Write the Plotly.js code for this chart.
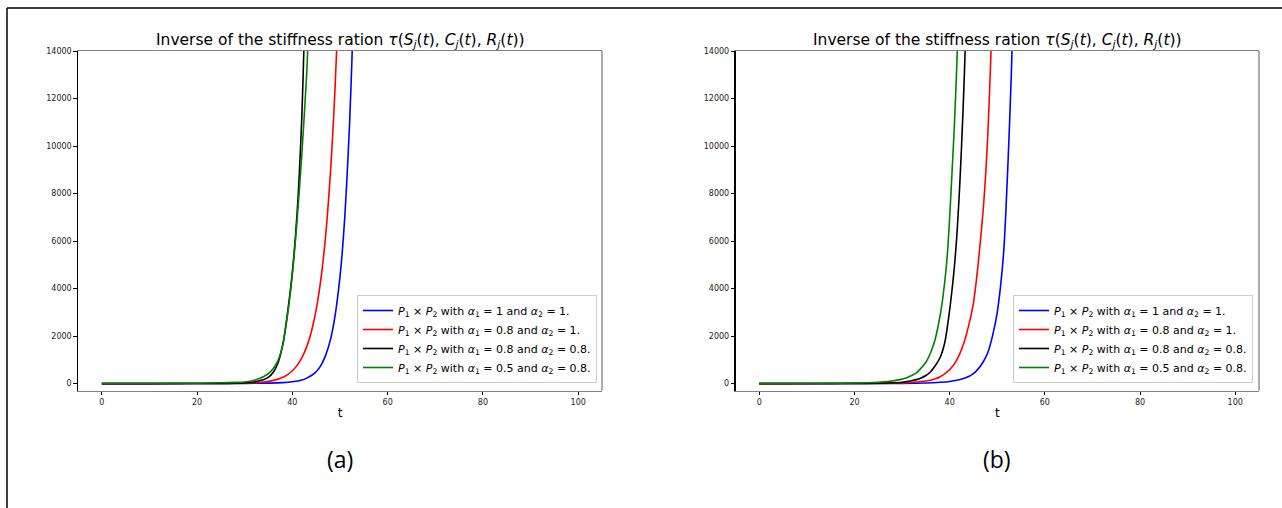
<!DOCTYPE html>
<html>
<head>
<meta charset="utf-8">
<script src="https://cdn.plot.ly/plotly-3.0.1.min.js"></script>
<style>html,body{margin:0;padding:0;background:#fff;}#chart{width:1282px;height:508px;}</style>
</head>
<body>
<div id="chart"></div>
<script>
// ---- Data (t, value) ----
// Panel (a)
const tA_blue  = [0, 10, 20, 30, 35, 38, 40, 42, 43, 44, 45, 46, 47, 48, 49, 50, 50.5, 51, 51.5, 52, 52.5, 53];
const vA_blue  = [0, 0.5, 2, 8, 22, 40, 75, 150, 230, 340, 500, 770, 1200, 1850, 2900, 4500, 5600, 7000, 8800, 10900, 13600, 16900];
const tA_red   = [0, 10, 20, 25, 30, 33, 35, 37, 38, 39, 40, 41, 42, 43, 44, 45, 46, 47, 48, 48.5, 49, 49.5];
const vA_red   = [0.5, 1, 3, 6, 16, 47, 94, 189, 268, 381, 541, 767, 1089, 1545, 2192, 3111, 4415, 6265, 8890, 10590, 12620, 15030];
const tA_black = [0, 10, 20, 25, 28, 30, 32, 34, 35, 36, 37, 38, 39, 40, 41, 42, 42.5, 43];
const vA_black = [0.3, 1, 3, 8, 16, 30, 70, 170, 270, 480, 880, 1650, 3000, 4700, 7200, 11300, 14700, 19000];
const tA_green = [0, 10, 20, 25, 28, 30, 32, 34, 35, 36, 37, 38, 39, 40, 41, 42, 43, 43.5];
const vA_green = [2, 5, 15, 35, 50, 70, 140, 300, 430, 640, 980, 1650, 2900, 4600, 6900, 9700, 13000, 15300];
// Panel (b)
const tB_blue  = [0, 10, 20, 30, 35, 38, 40, 42, 44, 45, 46, 47, 48, 49, 50, 51, 51.5, 52, 52.5, 53, 53.5];
const vB_blue  = [0, 0.5, 2, 8, 25, 55, 90, 160, 300, 420, 620, 900, 1300, 2000, 3000, 4700, 6000, 8100, 10500, 13300, 17000];
const tB_red   = [0, 10, 20, 25, 30, 33, 35, 36, 37, 38, 39, 40, 41, 42, 43, 44, 45, 46, 47, 47.5, 48, 48.5, 49];
const vB_red   = [0.5, 1, 4, 10, 30, 70, 110, 140, 200, 290, 420, 590, 830, 1200, 1720, 2450, 3400, 5050, 7200, 8600, 10400, 12900, 15700];
const tB_black = [0, 10, 20, 25, 28, 30, 32, 33, 34, 35, 36, 37, 38, 39, 40, 40.5, 41, 41.5, 42, 42.5, 43, 43.5];
const vB_black = [0.5, 1.5, 5, 15, 35, 60, 120, 168, 240, 340, 500, 760, 1100, 1750, 3100, 3950, 4930, 6200, 7900, 10000, 12500, 15500];
const tB_green = [0, 10, 20, 25, 27, 29.5, 31, 32, 33, 33.7, 35, 36, 36.5, 37, 37.5, 38.2, 39, 39.5, 40, 40.5, 41, 41.5, 42];
const vB_green = [1, 4, 25, 60, 90, 168, 250, 340, 450, 590, 900, 1300, 1570, 1900, 2350, 3100, 4350, 5400, 7000, 8900, 10900, 13400, 16500];

const seriesNames = [
  "<i>P</i><sub>1</sub> × <i>P</i><sub>2</sub> with <i>α</i><sub>1</sub> = 1 and <i>α</i><sub>2</sub> = 1.",
  "<i>P</i><sub>1</sub> × <i>P</i><sub>2</sub> with <i>α</i><sub>1</sub> = 0.8 and <i>α</i><sub>2</sub> = 1.",
  "<i>P</i><sub>1</sub> × <i>P</i><sub>2</sub> with <i>α</i><sub>1</sub> = 0.8 and <i>α</i><sub>2</sub> = 0.8.",
  "<i>P</i><sub>1</sub> × <i>P</i><sub>2</sub> with <i>α</i><sub>1</sub> = 0.5 and <i>α</i><sub>2</sub> = 0.8."
];
const seriesColors = ["#0000ff", "#ff0000", "#000000", "#008000"];
const xTicks = [0, 20, 40, 60, 80, 100];
const yTicks = [0, 2000, 4000, 6000, 8000, 10000, 12000, 14000];
const panelTitle = "Inverse of the stiffness ration <i>τ</i>(<i>S<sub>j</sub></i>(<i>t</i>), <i>C<sub>j</sub></i>(<i>t</i>), <i>R<sub>j</sub></i>(<i>t</i>))";
const panelLabels = ["(a)", "(b)"];

const panelA = [[tA_blue, vA_blue], [tA_red, vA_red], [tA_black, vA_black], [tA_green, vA_green]];
const panelB = [[tB_blue, vB_blue], [tB_red, vB_red], [tB_black, vB_black], [tB_green, vB_green]];

const traces = [];
function addPanel(panel, xa, ya, leg) {
  panel.forEach((s, i) => {
    traces.push({
      x: s[0], y: s[1], type: "scatter", mode: "lines",
      name: seriesNames[i], xaxis: xa, yaxis: ya, legend: leg,
      line: {color: seriesColors[i], width: 1.6, shape: "spline", smoothing: 0.7},
      cliponaxis: true
    });
  });
}
addPanel(panelA, "x", "y", "legend");
addPanel(panelB, "x2", "y2", "legend2");

const W = 1282, H = 508;
const px = v => v / W;
const py = v => (H - v) / H;
const yDom = [py(390.5), py(51)];

function xAxis(dom, anchor) {
  return {
    domain: dom, anchor: anchor, range: [-5, 105], tickvals: xTicks, ticktext: xTicks.map(String),
    showgrid: false, zeroline: false, showline: true, mirror: true, linecolor: "#808080", linewidth: 1.3,
    ticks: "outside", ticklen: 3.5, tickwidth: 1, tickcolor: "#000",
    tickfont: {family: "DejaVu Sans", size: 8, color: "#222"},
    title: {text: "t", font: {family: "DejaVu Sans", size: 12, color: "#000"}, standoff: 2},
    automargin: false, fixedrange: true
  };
}
function yAxis(anchor) {
  return {
    domain: yDom, anchor: anchor, range: [-290, 14000], tickvals: yTicks, ticktext: yTicks.map(String),
    showgrid: false, zeroline: false, showline: true, mirror: false, linecolor: "#000", linewidth: 1.2,
    ticks: "outside", ticklen: 3.5, tickwidth: 1, tickcolor: "#000",
    tickfont: {family: "DejaVu Sans", size: 8, color: "#222"},
    automargin: false, fixedrange: true
  };
}
const legendBase = {
  xref: "paper", yref: "paper", xanchor: "right", yanchor: "bottom",
  bgcolor: "rgba(255,255,255,0.85)", bordercolor: "#cccccc", borderwidth: 1,
  font: {family: "DejaVu Sans", size: 11, color: "#000"}, tracegroupgap: 0, itemwidth: 30
};

const layout = {
  width: W, height: H,
  margin: {l: 0, r: 0, t: 0, b: 0},
  paper_bgcolor: "#fff", plot_bgcolor: "#fff",
  showlegend: true,
  xaxis: xAxis([px(78), px(602)], "y"),
  yaxis: yAxis("x"),
  xaxis2: xAxis([px(735.5), px(1259)], "y2"),
  yaxis2: yAxis("x2"),
  legend: Object.assign({}, legendBase, {x: px(597), y: py(383)}),
  legend2: Object.assign({}, legendBase, {x: px(1253), y: py(383)}),
  annotations: [
    {text: panelTitle, xref: "paper", yref: "paper", x: px(340), y: py(41), xanchor: "center", yanchor: "middle", showarrow: false, font: {family: "DejaVu Sans", size: 15.5, color: "#000"}},
    {text: panelTitle, xref: "paper", yref: "paper", x: px(997), y: py(41), xanchor: "center", yanchor: "middle", showarrow: false, font: {family: "DejaVu Sans", size: 15.5, color: "#000"}},
    {text: panelLabels[0], xref: "paper", yref: "paper", x: px(340), y: py(459), xanchor: "center", yanchor: "middle", showarrow: false, font: {family: "Open Sans", size: 23, color: "#000"}},
    {text: panelLabels[1], xref: "paper", yref: "paper", x: px(997), y: py(459), xanchor: "center", yanchor: "middle", showarrow: false, font: {family: "Open Sans", size: 23, color: "#000"}}
  ],
  shapes: [
    {type: "line", xref: "paper", yref: "paper", x0: px(7), x1: px(7), y0: 0, y1: py(8), line: {color: "#000", width: 1.5}},
    {type: "line", xref: "paper", yref: "paper", x0: px(7), x1: 1, y0: py(8), y1: py(8), line: {color: "#000", width: 1.5}},
    {type: "line", xref: "x domain", yref: "y domain", x0: 1, x1: 1, y0: 0, y1: 1, line: {color: "#808080", width: 1.3}},
    {type: "line", xref: "x2 domain", yref: "y2 domain", x0: 1, x1: 1, y0: 0, y1: 1, line: {color: "#808080", width: 1.3}}
  ]
};

Plotly.newPlot("chart", traces, layout, {staticPlot: true, displayModeBar: false});
</script>
</body>
</html>
